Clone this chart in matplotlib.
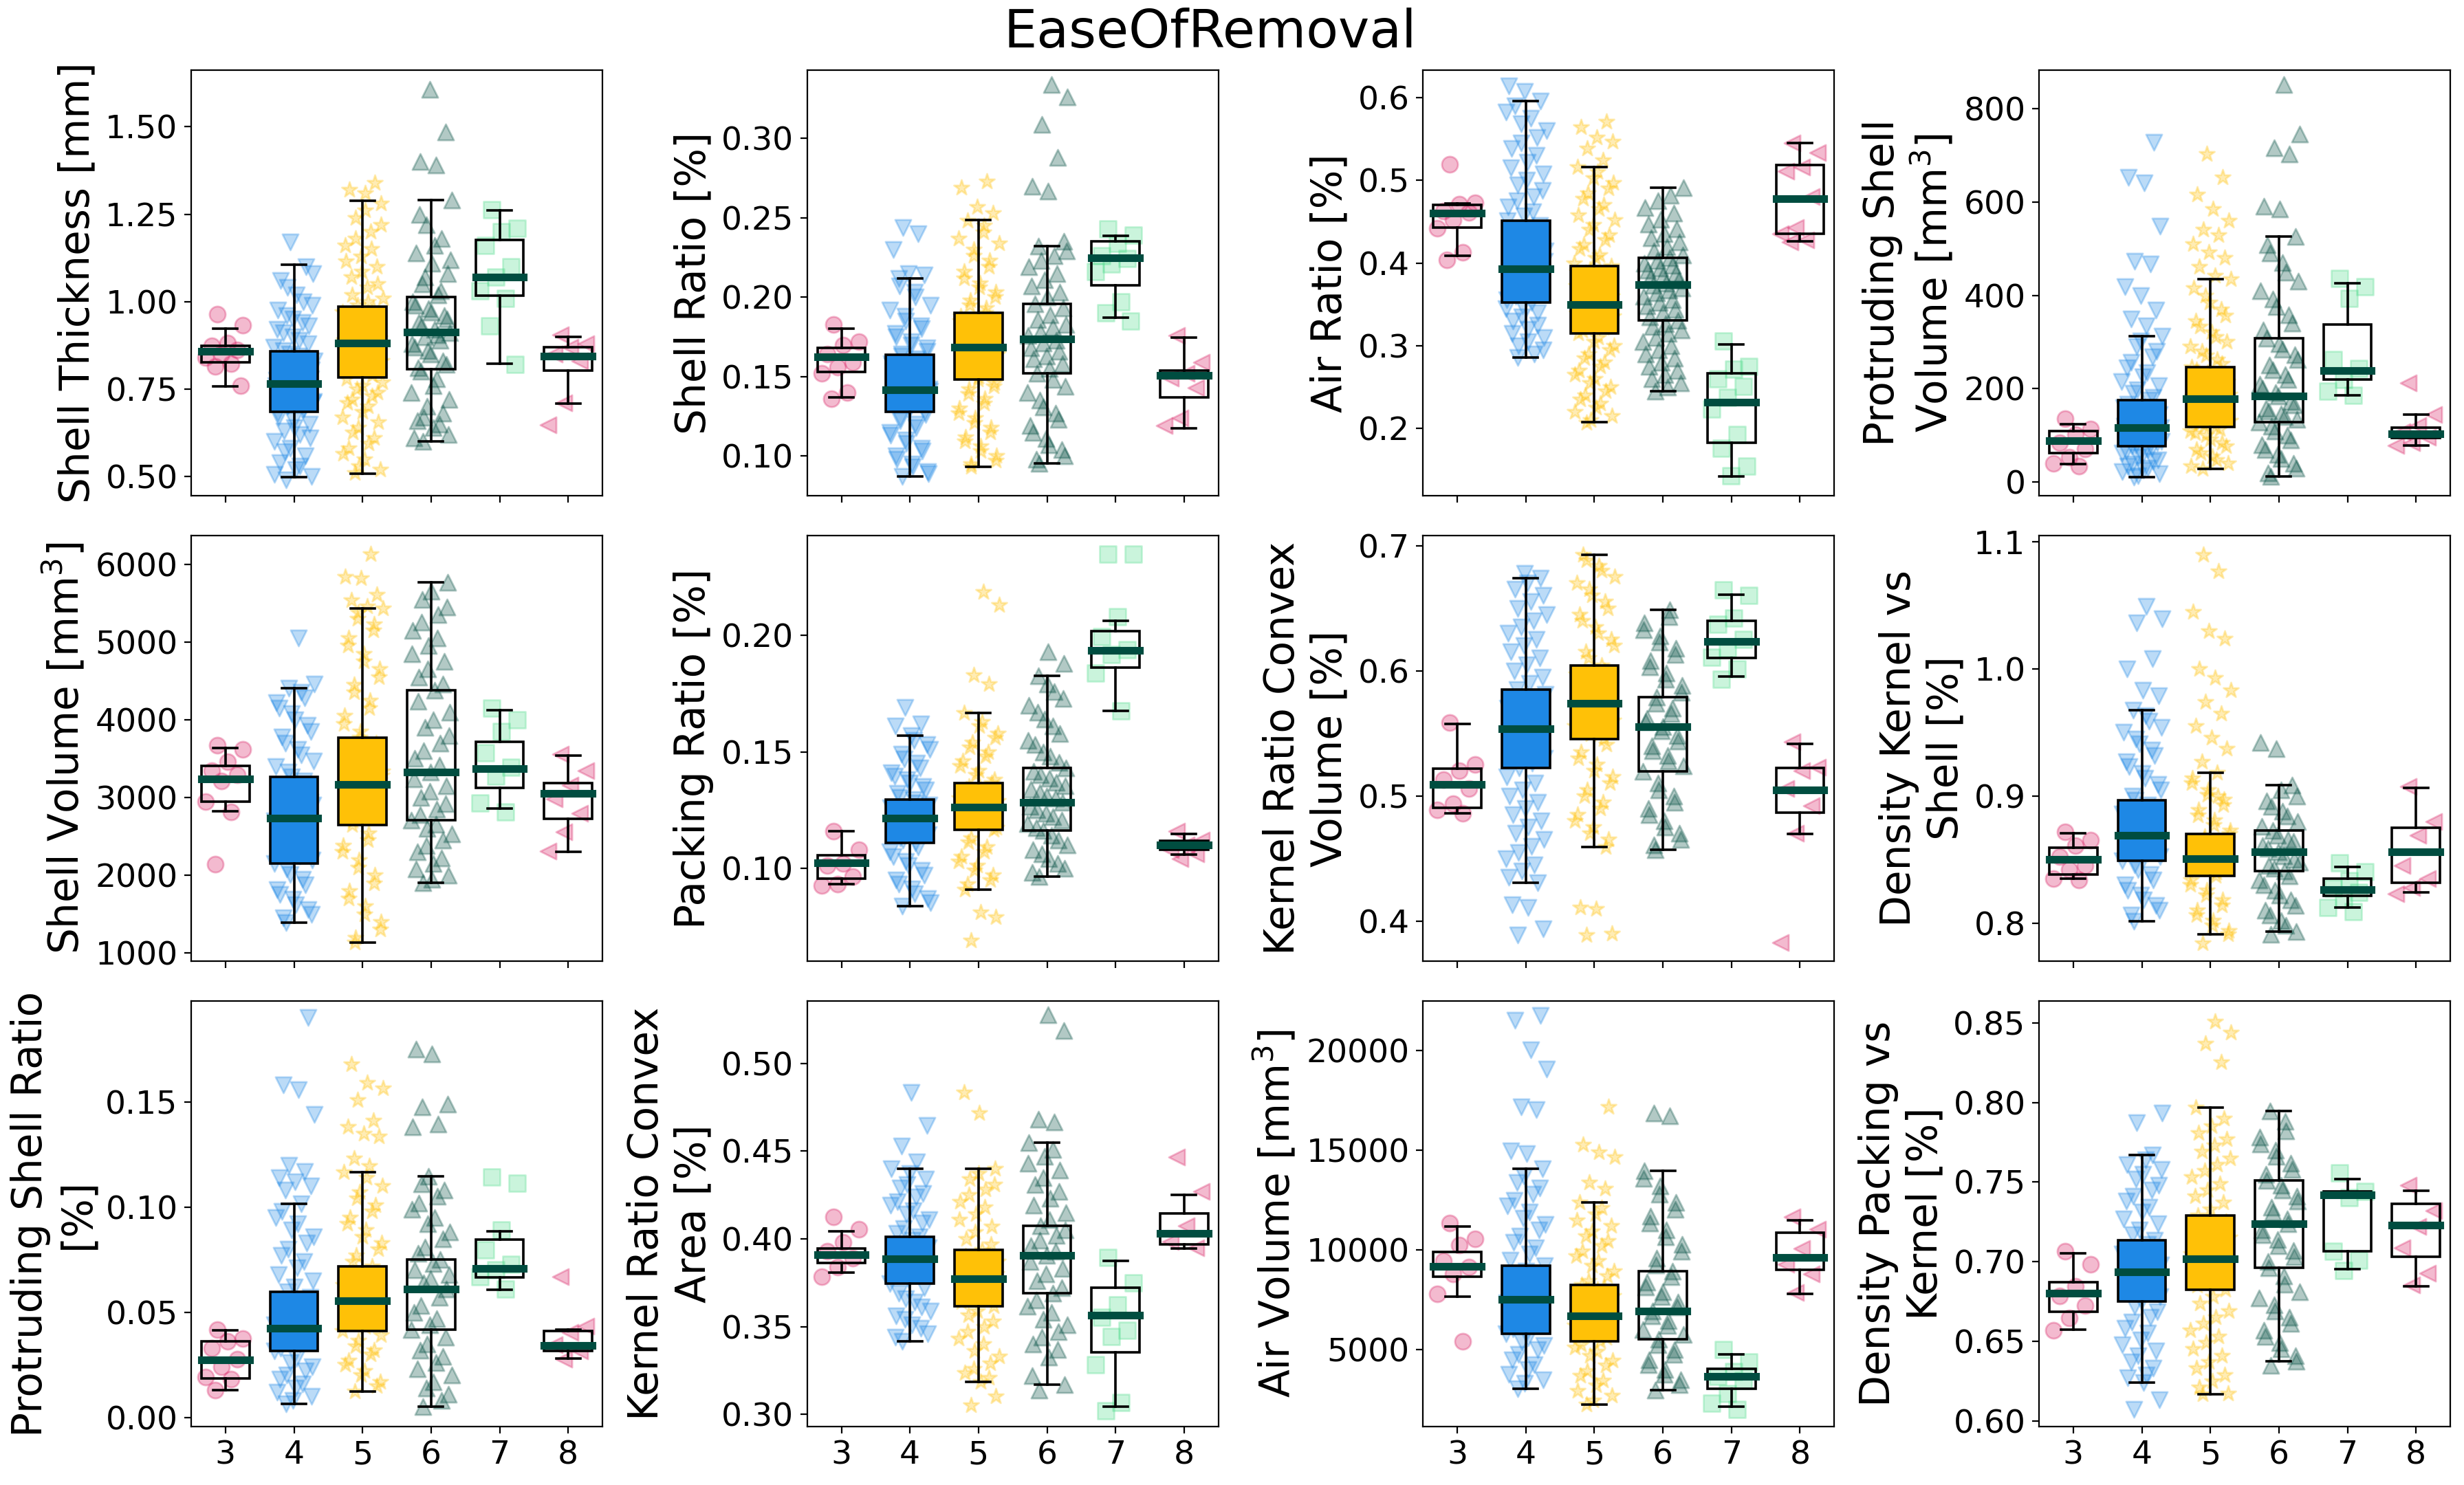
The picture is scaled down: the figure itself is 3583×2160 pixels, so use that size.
"""EaseOfRemoval: box plots with jittered points for twelve measurements, grades 3-8.

Output: out.png
"""

import matplotlib

matplotlib.use("Agg")
import matplotlib.pyplot as plt
import numpy as np

GROUPS = [3, 4, 5, 6, 7, 8]
COLORS = ["#D81B60", "#1E88E5", "#FFC107", "#004D40", "#50DC8C", "#D81B60"]
MARKERS = ["o", "v", "*", "^", "s", "<"]
BOX_FACES = ["none", "#1E88E5", "#FFC107", "none", "none", "none"]
MEDIAN_COLOR = "#004D40"

# box stats per group: (whislo, q1, med, q3, whishi)
THICK_BOX = [(0.758, 0.827, 0.857, 0.874, 0.923), (0.498, 0.685, 0.765, 0.857, 1.106),
             (0.507, 0.783, 0.882, 0.986, 1.288), (0.600, 0.806, 0.912, 1.014, 1.290),
             (0.822, 1.018, 1.070, 1.177, 1.261), (0.709, 0.803, 0.844, 0.869, 0.899)]
THICK_PTS = [
    [0.964, 0.932, 0.882, 0.873, 0.862, 0.85, 0.84, 0.823, 0.814, 0.76],
    [0.49, 0.50, 0.52, 0.54, 0.56, 0.58, 0.60, 0.62, 0.63, 0.65, 0.66, 0.68, 0.69, 0.70, 0.71, 0.72,
     0.73, 0.74, 0.75, 0.76, 0.765, 0.77, 0.78, 0.79, 0.80, 0.81, 0.82, 0.83, 0.845, 0.86, 0.88, 0.90,
     0.92, 0.94, 0.96, 0.99, 1.02, 1.06, 1.10, 1.17,
     0.505, 0.53, 0.57, 0.61, 0.64, 0.67, 0.695, 0.705, 0.715, 0.725, 0.735, 0.745, 0.755, 0.775,
     0.785, 0.795, 0.805, 0.815, 0.825, 0.835, 0.85, 0.87, 0.89, 0.91, 0.93, 0.95, 0.975, 1.0, 1.04,
     1.08],
    [0.51, 0.52, 0.55, 0.58, 0.61, 0.64, 0.67, 0.70, 0.72, 0.74, 0.76, 0.78, 0.79, 0.81, 0.83, 0.85,
     0.86, 0.87, 0.88, 0.89, 0.90, 0.92, 0.93, 0.95, 0.96, 0.98, 0.99, 1.01, 1.04, 1.07, 1.10, 1.13,
     1.16, 1.20, 1.24, 1.28, 1.31, 1.32, 1.34,
     0.53, 0.565, 0.595, 0.625, 0.655, 0.685, 0.71, 0.73, 0.75, 0.77, 0.80, 0.82, 0.84, 0.855, 0.865,
     0.875, 0.885, 0.895, 0.91, 0.925, 0.94, 0.955, 0.97, 1.0, 1.02, 1.05, 1.085, 1.115, 1.15, 1.18,
     1.22, 1.26],
    [0.60, 0.62, 0.64, 0.66, 0.68, 0.70, 0.74, 0.78, 0.80, 0.82, 0.85, 0.87, 0.89, 0.90, 0.91, 0.92,
     0.94, 0.96, 0.98, 1.00, 1.02, 1.05, 1.08, 1.11, 1.14, 1.18, 1.22, 1.29, 1.39, 1.40, 1.485, 1.607,
     0.61, 0.65, 0.67, 0.72, 0.76, 0.81, 0.83, 0.86, 0.88, 0.905, 0.93, 0.95, 0.97, 0.99, 1.03, 1.07,
     1.12, 1.16, 1.25],
    [1.263, 1.21, 1.20, 1.16, 1.10, 1.07, 1.03, 1.01, 0.93, 0.82],
    [0.905, 0.88, 0.87, 0.85, 0.83, 0.71, 0.647],
]

SHELL_RATIO_BOX = [(0.137, 0.153, 0.1625, 0.168, 0.180), (0.087, 0.128, 0.1415, 0.1636, 0.212),
                   (0.093, 0.148, 0.1686, 0.190, 0.2485), (0.0955, 0.152, 0.1735, 0.196, 0.232),
                   (0.187, 0.2076, 0.225, 0.2353, 0.2385), (0.1176, 0.137, 0.1507, 0.1536, 0.1745)]
SHELL_RATIO_PTS = [
    [0.183, 0.172, 0.170, 0.164, 0.159, 0.156, 0.152, 0.14, 0.136],
    [0.087, 0.09, 0.095, 0.10, 0.105, 0.11, 0.115, 0.12, 0.124, 0.128, 0.131, 0.134, 0.137, 0.14,
     0.142, 0.145, 0.148, 0.151, 0.155, 0.158, 0.161, 0.164, 0.168, 0.172, 0.177, 0.182, 0.188,
     0.195, 0.203, 0.212, 0.214, 0.215, 0.23, 0.24, 0.244,
     0.089, 0.093, 0.098, 0.103, 0.108, 0.113, 0.118, 0.122, 0.126, 0.13, 0.133, 0.136, 0.139,
     0.141, 0.144, 0.147, 0.15, 0.153, 0.157, 0.16, 0.163, 0.166, 0.17, 0.175, 0.18, 0.185, 0.192,
     0.2, 0.207],
    [0.093, 0.097, 0.103, 0.109, 0.115, 0.121, 0.127, 0.133, 0.139, 0.144, 0.148, 0.152, 0.156,
     0.16, 0.164, 0.168, 0.172, 0.176, 0.18, 0.185, 0.19, 0.195, 0.2, 0.206, 0.212, 0.219, 0.226,
     0.234, 0.241, 0.248, 0.253, 0.257, 0.269, 0.273,
     0.095, 0.1, 0.106, 0.112, 0.118, 0.124, 0.13, 0.136, 0.142, 0.146, 0.15, 0.154, 0.158, 0.162,
     0.166, 0.17, 0.174, 0.178, 0.183, 0.188, 0.193, 0.198, 0.203, 0.209, 0.216, 0.223, 0.23, 0.237,
     0.245],
    [0.0955, 0.10, 0.107, 0.115, 0.123, 0.131, 0.14, 0.148, 0.152, 0.158, 0.163, 0.168, 0.173,
     0.178, 0.183, 0.189, 0.196, 0.203, 0.211, 0.219, 0.226, 0.232, 0.235, 0.267, 0.27, 0.288,
     0.309, 0.326, 0.334,
     0.098, 0.104, 0.111, 0.119, 0.127, 0.135, 0.144, 0.155, 0.161, 0.166, 0.171, 0.176, 0.181,
     0.186, 0.193, 0.2, 0.207, 0.215, 0.223, 0.229],
    [0.243, 0.239, 0.234, 0.226, 0.2245, 0.221, 0.216, 0.197, 0.19, 0.185],
    [0.176, 0.159, 0.152, 0.149, 0.143, 0.124, 0.119],
]

AIR_RATIO_BOX = [(0.409, 0.443, 0.460, 0.4705, 0.472), (0.286, 0.352, 0.393, 0.451, 0.596),
                 (0.208, 0.315, 0.350, 0.396, 0.516), (0.245, 0.331, 0.374, 0.406, 0.491),
                 (0.142, 0.183, 0.232, 0.267, 0.302), (0.426, 0.435, 0.478, 0.518, 0.545)]
AIR_RATIO_PTS = [
    [0.519, 0.473, 0.471, 0.463, 0.461, 0.452, 0.442, 0.413, 0.404],
    [0.286, 0.295, 0.305, 0.315, 0.325, 0.335, 0.345, 0.352, 0.36, 0.368, 0.375, 0.382, 0.39, 0.395,
     0.402, 0.41, 0.42, 0.43, 0.44, 0.451, 0.462, 0.475, 0.488, 0.5, 0.515, 0.53, 0.545, 0.56,
     0.575, 0.59, 0.596, 0.607, 0.614,
     0.29, 0.3, 0.31, 0.32, 0.33, 0.34, 0.348, 0.356, 0.364, 0.372, 0.378, 0.386, 0.392, 0.398,
     0.405, 0.415, 0.425, 0.435, 0.445, 0.457, 0.468, 0.48, 0.494, 0.508, 0.522, 0.538, 0.552,
     0.568, 0.582],
    [0.207, 0.215, 0.225, 0.235, 0.245, 0.255, 0.265, 0.275, 0.285, 0.295, 0.305, 0.315, 0.322,
     0.329, 0.336, 0.343, 0.35, 0.357, 0.364, 0.372, 0.38, 0.388, 0.396, 0.406, 0.417, 0.428, 0.44,
     0.452, 0.465, 0.478, 0.49, 0.503, 0.516, 0.524, 0.538, 0.547, 0.552, 0.564, 0.571,
     0.21, 0.22, 0.23, 0.24, 0.25, 0.26, 0.27, 0.28, 0.29, 0.3, 0.31, 0.318, 0.326, 0.332, 0.339,
     0.346, 0.353, 0.36, 0.368, 0.376, 0.384, 0.392, 0.4, 0.41, 0.422, 0.434, 0.446, 0.458, 0.47,
     0.484, 0.497, 0.51],
    [0.245, 0.255, 0.265, 0.275, 0.285, 0.295, 0.305, 0.315, 0.323, 0.331, 0.34, 0.348, 0.356,
     0.364, 0.37, 0.376, 0.382, 0.388, 0.394, 0.4, 0.406, 0.415, 0.425, 0.435, 0.447, 0.46, 0.475,
     0.491,
     0.25, 0.26, 0.27, 0.28, 0.29, 0.3, 0.31, 0.319, 0.327, 0.335, 0.344, 0.352, 0.36, 0.367, 0.373,
     0.379, 0.385, 0.391, 0.397, 0.403, 0.41, 0.42, 0.43, 0.441, 0.453, 0.467, 0.482],
    [0.306, 0.275, 0.272, 0.26, 0.251, 0.238, 0.224, 0.193, 0.176, 0.155, 0.143],
    [0.545, 0.533, 0.516, 0.511, 0.48, 0.443, 0.435, 0.428, 0.425],
]

PROT_VOL_BOX = [(38, 62, 88.5, 110, 124), (11, 77, 116, 175, 313), (28, 118, 178, 246, 434),
                (12, 129, 184, 308, 526), (186, 220, 239, 337, 426), (79, 95, 103, 116, 145)]
PROT_VOL_PTS = [
    [136, 114, 102, 84, 71, 53, 40, 34],
    [11, 18, 26, 35, 44, 53, 62, 70, 77, 84, 91, 98, 105, 111, 116, 123, 131, 140, 150, 160, 175,
     190, 207, 225, 245, 268, 290, 313, 334, 349, 368, 399, 418, 467, 473, 548, 640, 653, 727,
     14, 22, 30, 39, 48, 57, 66, 73, 80, 87, 94, 101, 108, 113, 119, 127, 135, 145, 155, 167, 182,
     198, 215, 235, 256, 280, 302],
    [28, 40, 55, 70, 85, 100, 110, 118, 127, 136, 145, 155, 165, 178, 188, 198, 210, 222, 234, 246,
     262, 280, 300, 322, 345, 370, 400, 434, 442, 461, 480, 492, 510, 529, 541, 560, 585, 616, 653,
     702,
     34, 47, 62, 77, 92, 105, 114, 122, 131, 140, 150, 160, 171, 183, 193, 204, 216, 228, 240, 254,
     271, 290, 311, 333, 357, 385, 415],
    [12, 30, 50, 70, 90, 110, 129, 140, 152, 165, 184, 200, 220, 240, 262, 285, 308, 340, 375, 410,
     450, 490, 526, 585, 591, 702, 715, 745, 851,
     20, 40, 60, 80, 100, 120, 135, 146, 158, 172, 192, 210, 230, 251, 273, 296, 325, 358, 392, 430,
     470, 508],
    [436, 418, 393, 263, 244, 220, 195, 186],
    [213, 145, 121, 108, 96, 84, 79],
]

SHELL_VOL_BOX = [(2828, 2946, 3241, 3406, 3636), (1395, 2153, 2739, 3268, 4402),
                 (1138, 2644, 3169, 3766, 5429), (1904, 2709, 3330, 4379, 5766),
                 (2858, 3126, 3375, 3713, 4123), (2303, 2728, 3057, 3188, 3544)]
SHELL_VOL_PTS = [
    [3674, 3617, 3464, 3349, 3291, 3215, 2946, 2812, 2142],
    [1395, 1500, 1620, 1750, 1880, 2010, 2153, 2250, 2350, 2450, 2550, 2650, 2739, 2820, 2900, 2980,
     3070, 3160, 3268, 3400, 3550, 3700, 3850, 4000, 4150, 4280, 4402, 4460, 5054,
     1450, 1560, 1690, 1820, 1950, 2080, 2200, 2300, 2400, 2500, 2600, 2700, 2780, 2860, 2940, 3020,
     3110, 3210, 3330, 3470, 3620, 3780, 3930, 4080, 4220, 4350],
    [1138, 1300, 1500, 1700, 1900, 2100, 2300, 2450, 2644, 2750, 2850, 2950, 3060, 3169, 3280, 3400,
     3520, 3640, 3766, 3950, 4150, 4350, 4550, 4750, 4950, 5150, 5300, 5429, 5456, 5533, 5609, 5820,
     5839, 6126,
     1200, 1400, 1600, 1800, 2000, 2200, 2380, 2540, 2700, 2800, 2900, 3000, 3110, 3220, 3340, 3460,
     3580, 3700, 3850, 4050, 4250, 4450, 4650, 4850, 5050, 5230, 5380],
    [1904, 2000, 2150, 2300, 2450, 2600, 2709, 2850, 3000, 3150, 3330, 3500, 3700, 3900, 4100, 4379,
     4550, 4750, 4950, 5150, 5350, 5550, 5766,
     1950, 2080, 2220, 2380, 2530, 2660, 2780, 2920, 3080, 3240, 3420, 3600, 3800, 4000, 4240, 4460,
     4650, 4850, 5050, 5250, 5450, 5650],
    [4153, 4000, 3847, 3579, 3387, 3272, 2927, 2812],
    [3560, 3349, 3157, 2985, 2793, 2563, 2314],
]

PACKING_BOX = [(0.0932, 0.0954, 0.1024, 0.1056, 0.1159), (0.0837, 0.1108, 0.1214, 0.1294, 0.157),
               (0.0908, 0.1165, 0.1263, 0.1365, 0.1668), (0.0964, 0.1163, 0.1282, 0.143, 0.1827),
               (0.1676, 0.1863, 0.1936, 0.202, 0.2064), (0.1058, 0.108, 0.1099, 0.1117, 0.1147)]
PACKING_PTS = [
    [0.116, 0.108, 0.102, 0.101, 0.0964, 0.0932, 0.0926],
    [0.0837, 0.087, 0.091, 0.095, 0.099, 0.103, 0.107, 0.1108, 0.113, 0.116, 0.118, 0.1214, 0.123,
     0.125, 0.127, 0.1294, 0.132, 0.135, 0.138, 0.141, 0.145, 0.149, 0.153, 0.157, 0.161, 0.162,
     0.169,
     0.085, 0.089, 0.093, 0.097, 0.101, 0.105, 0.109, 0.112, 0.1145, 0.117, 0.1195, 0.122, 0.124,
     0.126, 0.128, 0.1305, 0.1335, 0.1365, 0.1395, 0.143, 0.147, 0.151, 0.155],
    [0.0688, 0.079, 0.081, 0.0908, 0.095, 0.099, 0.103, 0.107, 0.111, 0.1165, 0.119, 0.1215, 0.124,
     0.1263, 0.129, 0.1315, 0.134, 0.1365, 0.14, 0.144, 0.148, 0.152, 0.156, 0.161, 0.1668, 0.179,
     0.183, 0.213, 0.2188,
     0.093, 0.097, 0.101, 0.105, 0.109, 0.113, 0.1175, 0.1205, 0.1228, 0.125, 0.1275, 0.13, 0.1328,
     0.135, 0.138, 0.142, 0.146, 0.15, 0.154, 0.158, 0.163],
    [0.0964, 0.1, 0.104, 0.108, 0.112, 0.1163, 0.119, 0.122, 0.125, 0.1282, 0.131, 0.134, 0.137,
     0.14, 0.143, 0.148, 0.153, 0.158, 0.164, 0.17, 0.176, 0.1827, 0.188, 0.193,
     0.098, 0.102, 0.106, 0.11, 0.114, 0.1175, 0.1205, 0.1235, 0.1265, 0.13, 0.1325, 0.1355, 0.1385,
     0.1415, 0.1455, 0.15, 0.155, 0.161, 0.167, 0.173, 0.179],
    [0.2349, 0.235, 0.208, 0.1996, 0.194, 0.192, 0.184, 0.1676],
    [0.116, 0.112, 0.11, 0.108, 0.106, 0.104],
]

KRC_VOL_BOX = [(0.4863, 0.4906, 0.509, 0.522, 0.5574), (0.4305, 0.5223, 0.5538, 0.5848, 0.6742),
               (0.4591, 0.5455, 0.5741, 0.6044, 0.6926), (0.457, 0.5197, 0.5555, 0.5788, 0.6485),
               (0.5955, 0.6103, 0.6232, 0.6397, 0.6609), (0.4696, 0.4868, 0.505, 0.5223, 0.5416)]
KRC_VOL_PTS = [
    [0.5586, 0.525, 0.52, 0.513, 0.506, 0.494, 0.489, 0.486],
    [0.389, 0.394, 0.411, 0.413, 0.4305, 0.44, 0.45, 0.46, 0.47, 0.48, 0.49, 0.5, 0.51, 0.5223,
     0.53, 0.538, 0.546, 0.5538, 0.562, 0.57, 0.578, 0.5848, 0.595, 0.605, 0.615, 0.625, 0.635,
     0.645, 0.655, 0.665, 0.6742, 0.678,
     0.435, 0.445, 0.455, 0.465, 0.475, 0.485, 0.495, 0.505, 0.515, 0.526, 0.534, 0.542, 0.55,
     0.558, 0.566, 0.574, 0.581, 0.59, 0.6, 0.61, 0.62, 0.63, 0.64, 0.65, 0.66, 0.67],
    [0.389, 0.39, 0.41, 0.411, 0.4591, 0.47, 0.48, 0.49, 0.5, 0.51, 0.52, 0.53, 0.5455, 0.553, 0.56,
     0.567, 0.5741, 0.582, 0.59, 0.597, 0.6044, 0.615, 0.625, 0.635, 0.645, 0.655, 0.665, 0.675,
     0.684, 0.6926,
     0.465, 0.475, 0.485, 0.495, 0.505, 0.515, 0.525, 0.535, 0.541, 0.549, 0.556, 0.563, 0.57,
     0.578, 0.586, 0.593, 0.6, 0.61, 0.62, 0.63, 0.64, 0.65, 0.66, 0.67, 0.68, 0.688],
    [0.457, 0.465, 0.475, 0.485, 0.495, 0.505, 0.5197, 0.528, 0.536, 0.544, 0.5555, 0.562, 0.57,
     0.5788, 0.588, 0.598, 0.608, 0.618, 0.628, 0.638, 0.6485,
     0.461, 0.47, 0.48, 0.49, 0.5, 0.51, 0.524, 0.532, 0.54, 0.548, 0.552, 0.559, 0.566, 0.574,
     0.583, 0.593, 0.603, 0.613, 0.623, 0.633, 0.643],
    [0.6647, 0.66, 0.642, 0.637, 0.625, 0.618, 0.611, 0.6015, 0.593],
    [0.543, 0.5228, 0.52, 0.506, 0.492, 0.47, 0.383],
]

DENS_KS_BOX = [(0.8349, 0.8382, 0.85, 0.8593, 0.8707), (0.8014, 0.8492, 0.8689, 0.8967, 0.9674),
               (0.7909, 0.8372, 0.8506, 0.87, 0.9183), (0.7932, 0.8407, 0.8562, 0.8726, 0.9084),
               (0.8124, 0.8213, 0.8262, 0.8347, 0.8443), (0.8241, 0.8316, 0.856, 0.8752, 0.9063)]
DENS_KS_PTS = [
    [0.872, 0.865, 0.861, 0.852, 0.845, 0.842, 0.835, 0.834],
    [0.8014, 0.81, 0.818, 0.826, 0.834, 0.842, 0.8492, 0.855, 0.861, 0.8689, 0.876, 0.883, 0.89,
     0.8967, 0.905, 0.914, 0.923, 0.932, 0.941, 0.95, 0.959, 0.9674, 0.979, 0.983, 0.9998, 1.008,
     1.036, 1.0396, 1.049,
     0.806, 0.814, 0.822, 0.83, 0.838, 0.846, 0.852, 0.858, 0.864, 0.872, 0.879, 0.886, 0.893, 0.9,
     0.909, 0.918, 0.927, 0.936, 0.945, 0.954, 0.963],
    [0.784, 0.7909, 0.798, 0.806, 0.814, 0.822, 0.83, 0.8372, 0.842, 0.846, 0.8506, 0.856, 0.861,
     0.866, 0.87, 0.877, 0.885, 0.893, 0.901, 0.91, 0.9183, 0.927, 0.937, 0.946, 0.955, 0.965,
     0.974, 0.983, 0.993, 1.0, 1.024, 1.03, 1.045, 1.077, 1.09,
     0.794, 0.802, 0.81, 0.818, 0.826, 0.834, 0.84, 0.844, 0.848, 0.853, 0.858, 0.863, 0.868, 0.873,
     0.881, 0.889, 0.897, 0.905, 0.914, 0.9, 0.86, 0.85],
    [0.791, 0.7932, 0.802, 0.81, 0.818, 0.826, 0.834, 0.8407, 0.845, 0.85, 0.8562, 0.861, 0.866,
     0.8726, 0.88, 0.888, 0.896, 0.9084, 0.937, 0.942,
     0.798, 0.806, 0.814, 0.822, 0.83, 0.837, 0.843, 0.848, 0.853, 0.859, 0.864, 0.869, 0.876,
     0.884, 0.892, 0.9, 0.905],
    [0.8475, 0.8405, 0.8335, 0.8276, 0.824, 0.819, 0.812, 0.809],
    [0.9073, 0.88, 0.869, 0.845, 0.835, 0.828, 0.823],
]

PROT_RATIO_BOX = [(0.0129, 0.0185, 0.0274, 0.036, 0.0414), (0.0064, 0.0315, 0.0422, 0.0596, 0.1015),
                  (0.0123, 0.041, 0.0556, 0.0717, 0.1167), (0.0052, 0.0416, 0.0611, 0.075, 0.1145),
                  (0.0607, 0.0664, 0.0707, 0.0845, 0.0883), (0.0281, 0.0315, 0.0342, 0.041, 0.0416)]
PROT_RATIO_PTS = [
    [0.0416, 0.0374, 0.036, 0.033, 0.0278, 0.0241, 0.019, 0.018, 0.013],
    [0.0064, 0.01, 0.014, 0.018, 0.022, 0.026, 0.0315, 0.035, 0.0385, 0.0422, 0.046, 0.05, 0.0545,
     0.0596, 0.065, 0.071, 0.077, 0.083, 0.089, 0.095, 0.1015, 0.108, 0.11, 0.112, 0.114, 0.117,
     0.12, 0.144, 0.1558, 0.158, 0.19,
     0.008, 0.012, 0.016, 0.02, 0.024, 0.028, 0.033, 0.037, 0.04, 0.044, 0.048, 0.052, 0.057, 0.062,
     0.068, 0.074, 0.08, 0.086, 0.092, 0.098],
    [0.0123, 0.017, 0.022, 0.027, 0.032, 0.0365, 0.041, 0.045, 0.0495, 0.0556, 0.06, 0.065, 0.0717,
     0.077, 0.083, 0.089, 0.095, 0.101, 0.107, 0.1167, 0.1195, 0.123, 0.1336, 0.135, 0.138, 0.141,
     0.151, 0.1565, 0.159, 0.168,
     0.015, 0.02, 0.025, 0.03, 0.034, 0.039, 0.043, 0.047, 0.052, 0.058, 0.063, 0.068, 0.074, 0.08,
     0.086, 0.092, 0.098, 0.104, 0.11, 0.114],
    [0.0052, 0.011, 0.017, 0.023, 0.029, 0.035, 0.0416, 0.047, 0.053, 0.0611, 0.066, 0.07, 0.075,
     0.081, 0.088, 0.095, 0.102, 0.108, 0.1145, 0.138, 0.1395, 0.1476, 0.149, 0.1728, 0.175,
     0.008, 0.014, 0.02, 0.026, 0.032, 0.038, 0.044, 0.05, 0.057, 0.064, 0.068, 0.073, 0.078, 0.085,
     0.092, 0.099, 0.105, 0.111],
    [0.1143, 0.1114, 0.0892, 0.0796, 0.0729, 0.07, 0.067, 0.061],
    [0.067, 0.0434, 0.0404, 0.0345, 0.0315, 0.0278],
]

KRC_AREA_BOX = [(0.3806, 0.3864, 0.3908, 0.3943, 0.4043), (0.3416, 0.3745, 0.3885, 0.4011, 0.4399),
                (0.3185, 0.3614, 0.3772, 0.3935, 0.4399), (0.3169, 0.3689, 0.3905, 0.4073, 0.4549),
                (0.3045, 0.3355, 0.3564, 0.3722, 0.3874), (0.3943, 0.3968, 0.4031, 0.4145, 0.4251)]
KRC_AREA_PTS = [
    [0.4126, 0.4054, 0.398, 0.393, 0.389, 0.3838, 0.3784],
    [0.3416, 0.346, 0.351, 0.356, 0.361, 0.366, 0.3745, 0.379, 0.384, 0.3885, 0.393, 0.397, 0.4011,
     0.406, 0.411, 0.416, 0.421, 0.426, 0.431, 0.4399, 0.444, 0.453, 0.4646, 0.4835,
     0.344, 0.349, 0.354, 0.359, 0.364, 0.369, 0.372, 0.377, 0.382, 0.386, 0.391, 0.395, 0.399,
     0.403, 0.409, 0.414, 0.419, 0.424, 0.429, 0.434, 0.437],
    [0.305, 0.3102, 0.3185, 0.3237, 0.329, 0.336, 0.343, 0.35, 0.3565, 0.3614, 0.366, 0.371, 0.3772,
     0.382, 0.387, 0.3935, 0.4, 0.407, 0.414, 0.421, 0.428, 0.434, 0.4399, 0.4718, 0.4835,
     0.321, 0.326, 0.333, 0.34, 0.347, 0.353, 0.359, 0.364, 0.369, 0.374, 0.38, 0.385, 0.39, 0.397,
     0.404, 0.411, 0.418, 0.425, 0.431, 0.437],
    [0.3138, 0.3169, 0.3327, 0.34, 0.347, 0.354, 0.3615, 0.3689, 0.376, 0.383, 0.3905, 0.396, 0.402,
     0.4073, 0.415, 0.423, 0.431, 0.439, 0.447, 0.4549, 0.4664, 0.4682, 0.5185, 0.5275,
     0.322, 0.337, 0.344, 0.351, 0.358, 0.365, 0.372, 0.38, 0.387, 0.393, 0.399, 0.405, 0.411,
     0.419, 0.427, 0.435, 0.443, 0.451],
    [0.3892, 0.3749, 0.3623, 0.3551, 0.348, 0.3444, 0.3282, 0.3066, 0.302],
    [0.4467, 0.4269, 0.4072, 0.3983, 0.3947],
]

AIR_VOL_BOX = [(7674, 8671, 9193, 9905, 11171), (3054, 5807, 7516, 9209, 14082),
               (2230, 5411, 6693, 8244, 12405), (2975, 5538, 6930, 8924, 13987),
               (2136, 3022, 3655, 4035, 4747), (7816, 9019, 9620, 10854, 11503)]
AIR_VOL_PTS = [
    [11345, 10554, 10237, 9446, 9130, 8813, 7785, 5411],
    [3054, 3500, 4000, 4500, 5000, 5400, 5807, 6300, 6800, 7200, 7516, 7900, 8300, 8750, 9209, 9800,
     10400, 11000, 11600, 12200, 12800, 13400, 14082, 14826, 14984, 17041, 17199, 19098, 20047,
     21550, 21788,
     3300, 3750, 4250, 4750, 5200, 5600, 6050, 6550, 7000, 7350, 7700, 8100, 8500, 8950, 9500,
     10100, 10700, 11300, 11900, 12500, 13100, 13700],
    [2230, 2700, 3200, 3700, 4200, 4700, 5100, 5411, 5750, 6050, 6350, 6693, 7000, 7350, 7700, 8000,
     8244, 8700, 9200, 9700, 10200, 10700, 11200, 11800, 12405, 13085, 13402, 14668, 14905, 15300,
     17199,
     2450, 2950, 3450, 3950, 4450, 4900, 5250, 5580, 5900, 6200, 6500, 6850, 7180, 7520, 7850, 8120,
     8450, 8950, 9450, 9950, 10450, 10950, 11500, 12100],
    [2975, 3500, 4000, 4500, 5000, 5538, 6000, 6450, 6930, 7400, 7900, 8400, 8924, 9600, 10300,
     11000, 11700, 12400, 13200, 13987, 16725, 16883,
     3250, 3750, 4250, 4750, 5250, 5750, 6200, 6700, 7150, 7650, 8150, 8650, 9250, 9950, 10650,
     11350, 12050, 12800, 13600],
    [5016, 4383, 3908, 3655, 3434, 2801, 2326, 2009],
    [11661, 11028, 10079, 9288, 8813, 7864],
]

DENS_PK_BOX = [(0.6572, 0.6687, 0.6802, 0.6871, 0.7051), (0.6241, 0.6752, 0.6934, 0.7136, 0.7669),
               (0.6168, 0.6825, 0.7019, 0.729, 0.7968), (0.6374, 0.696, 0.7237, 0.7512, 0.7948),
               (0.6952, 0.7067, 0.7419, 0.7439, 0.7518), (0.6845, 0.7031, 0.723, 0.7362, 0.7447)]
DENS_PK_PTS = [
    [0.7063, 0.6984, 0.6845, 0.6786, 0.6726, 0.6647, 0.6568],
    [0.6073, 0.6133, 0.6241, 0.6271, 0.633, 0.641, 0.648, 0.655, 0.662, 0.6685, 0.6752, 0.681, 0.687,
     0.6934, 0.698, 0.703, 0.708, 0.7136, 0.72, 0.727, 0.734, 0.741, 0.748, 0.755, 0.761, 0.7669,
     0.7874, 0.7934,
     0.629, 0.637, 0.644, 0.651, 0.658, 0.665, 0.672, 0.678, 0.684, 0.69, 0.696, 0.7, 0.705, 0.711,
     0.717, 0.724, 0.731, 0.738, 0.745, 0.752, 0.758, 0.764],
    [0.6168, 0.6172, 0.625, 0.633, 0.641, 0.649, 0.657, 0.665, 0.6735, 0.6825, 0.688, 0.695, 0.7019,
     0.708, 0.715, 0.722, 0.729, 0.737, 0.745, 0.753, 0.761, 0.769, 0.777, 0.785, 0.7968, 0.8251,
     0.8369, 0.8439, 0.8508,
     0.621, 0.629, 0.637, 0.645, 0.653, 0.661, 0.669, 0.678, 0.685, 0.692, 0.698, 0.705, 0.712,
     0.718, 0.725, 0.733, 0.741, 0.749, 0.757, 0.765, 0.773, 0.781, 0.79],
    [0.635, 0.6374, 0.645, 0.653, 0.661, 0.669, 0.677, 0.686, 0.696, 0.703, 0.71, 0.717, 0.7237,
     0.731, 0.738, 0.745, 0.7512, 0.758, 0.766, 0.774, 0.782, 0.7948,
     0.641, 0.649, 0.657, 0.665, 0.673, 0.681, 0.691, 0.7, 0.707, 0.714, 0.72, 0.727, 0.734, 0.741,
     0.748, 0.755, 0.762, 0.77, 0.778, 0.788],
    [0.7558, 0.744, 0.74, 0.7067, 0.7008, 0.6944],
    [0.748, 0.732, 0.722, 0.7087, 0.6926, 0.6855],
]

# (ylabel, box stats, points, ylim, yticks) in row-major order
PANELS = [
    ("Shell Thickness [mm]", THICK_BOX, THICK_PTS, (0.445, 1.662), [0.5, 0.75, 1.0, 1.25, 1.5]),
    ("Shell Ratio [%]", SHELL_RATIO_BOX, SHELL_RATIO_PTS, (0.075, 0.343), [0.10, 0.15, 0.20, 0.25, 0.30]),
    ("Air Ratio [%]", AIR_RATIO_BOX, AIR_RATIO_PTS, (0.119, 0.633), [0.2, 0.3, 0.4, 0.5, 0.6]),
    ("Protruding Shell\nVolume [mm$^3$]", PROT_VOL_BOX, PROT_VOL_PTS, (-29, 882), [0, 200, 400, 600, 800]),
    ("Shell Volume [mm$^3$]", SHELL_VOL_BOX, SHELL_VOL_PTS, (897, 6368), [1000, 2000, 3000, 4000, 5000, 6000]),
    ("Packing Ratio [%]", PACKING_BOX, PACKING_PTS, (0.060, 0.243), [0.10, 0.15, 0.20]),
    ("Kernel Ratio Convex\nVolume [%]", KRC_VOL_BOX, KRC_VOL_PTS, (0.368, 0.708), [0.4, 0.5, 0.6, 0.7]),
    ("Density Kernel vs\nShell [%]", DENS_KS_BOX, DENS_KS_PTS, (0.770, 1.105), [0.8, 0.9, 1.0, 1.1]),
    ("Protruding Shell Ratio\n[%]", PROT_RATIO_BOX, PROT_RATIO_PTS, (-0.0044, 0.198), [0.0, 0.05, 0.10, 0.15]),
    ("Kernel Ratio Convex\nArea [%]", KRC_AREA_BOX, KRC_AREA_PTS, (0.293, 0.5355), [0.30, 0.35, 0.40, 0.45, 0.50]),
    ("Air Volume [mm$^3$]", AIR_VOL_BOX, AIR_VOL_PTS, (1139, 22500), [5000, 10000, 15000, 20000]),
    ("Density Packing vs\nKernel [%]", DENS_PK_BOX, DENS_PK_PTS, (0.5964, 0.8637), [0.60, 0.65, 0.70, 0.75, 0.80, 0.85]),
]

FIG_W, FIG_H = 3583, 2160
AX_LEFTS = [278, 1173.7, 2069.3, 2965]
AX_TOPS = [102, 779, 1456]
AX_W, AX_H = 598, 619


def jitter(n: int, spread: float = 0.3) -> np.ndarray:
    """Deterministic low-discrepancy horizontal offsets in [-spread, spread]."""
    return ((np.arange(n) * 0.6180339887 + 0.31) % 1.0 - 0.5) * 2 * spread


def draw_panel(ax: plt.Axes, label, box, pts, ylim, yticks) -> None:
    for pos, vals, color, marker in zip(GROUPS, pts, COLORS, MARKERS):
        vals = np.asarray(vals, dtype=float)
        ax.scatter(pos + jitter(len(vals)), vals, s=70, marker=marker, color=color,
                   alpha=0.3, linewidths=1.0, zorder=1)

    stats = [dict(whislo=b[0], q1=b[1], med=b[2], q3=b[3], whishi=b[4]) for b in box]
    art = ax.bxp(stats, positions=GROUPS, widths=0.7, patch_artist=True, showfliers=False,
                 boxprops=dict(edgecolor="black", linewidth=1.3),
                 whiskerprops=dict(color="black", linewidth=1.3),
                 capprops=dict(color="black", linewidth=1.3),
                 medianprops=dict(color=MEDIAN_COLOR, linewidth=4.0, solid_capstyle="projecting"),
                 zorder=2)
    for patch, face in zip(art["boxes"], BOX_FACES):
        patch.set_facecolor(face)
    for med in art["medians"]:
        med.set_zorder(3)

    ax.set_xlim(2.5, 8.5)
    ax.set_xticks(GROUPS)
    ax.set_xticklabels([str(g) for g in GROUPS])
    ax.set_ylim(*ylim)
    ax.set_yticks(yticks)
    ax.set_ylabel(label, fontsize=21.5)
    ax.tick_params(labelsize=17)


def main() -> None:
    fig, axes = plt.subplots(3, 4, sharex=True, figsize=(FIG_W / 200, FIG_H / 200), dpi=200)
    for i, (ax, panel) in enumerate(zip(axes.flat, PANELS)):
        row, col = divmod(i, 4)
        ax.set_position([AX_LEFTS[col] / FIG_W, 1 - (AX_TOPS[row] + AX_H) / FIG_H,
                         AX_W / FIG_W, AX_H / FIG_H])
        draw_panel(ax, *panel)

    fig.text(1760 / FIG_W, 1 - 69 / FIG_H, "EaseOfRemoval", fontsize=27.5,
             ha="center", va="baseline")
    fig.savefig("out.png", dpi=200)
    plt.close(fig)


if __name__ == "__main__":
    main()
